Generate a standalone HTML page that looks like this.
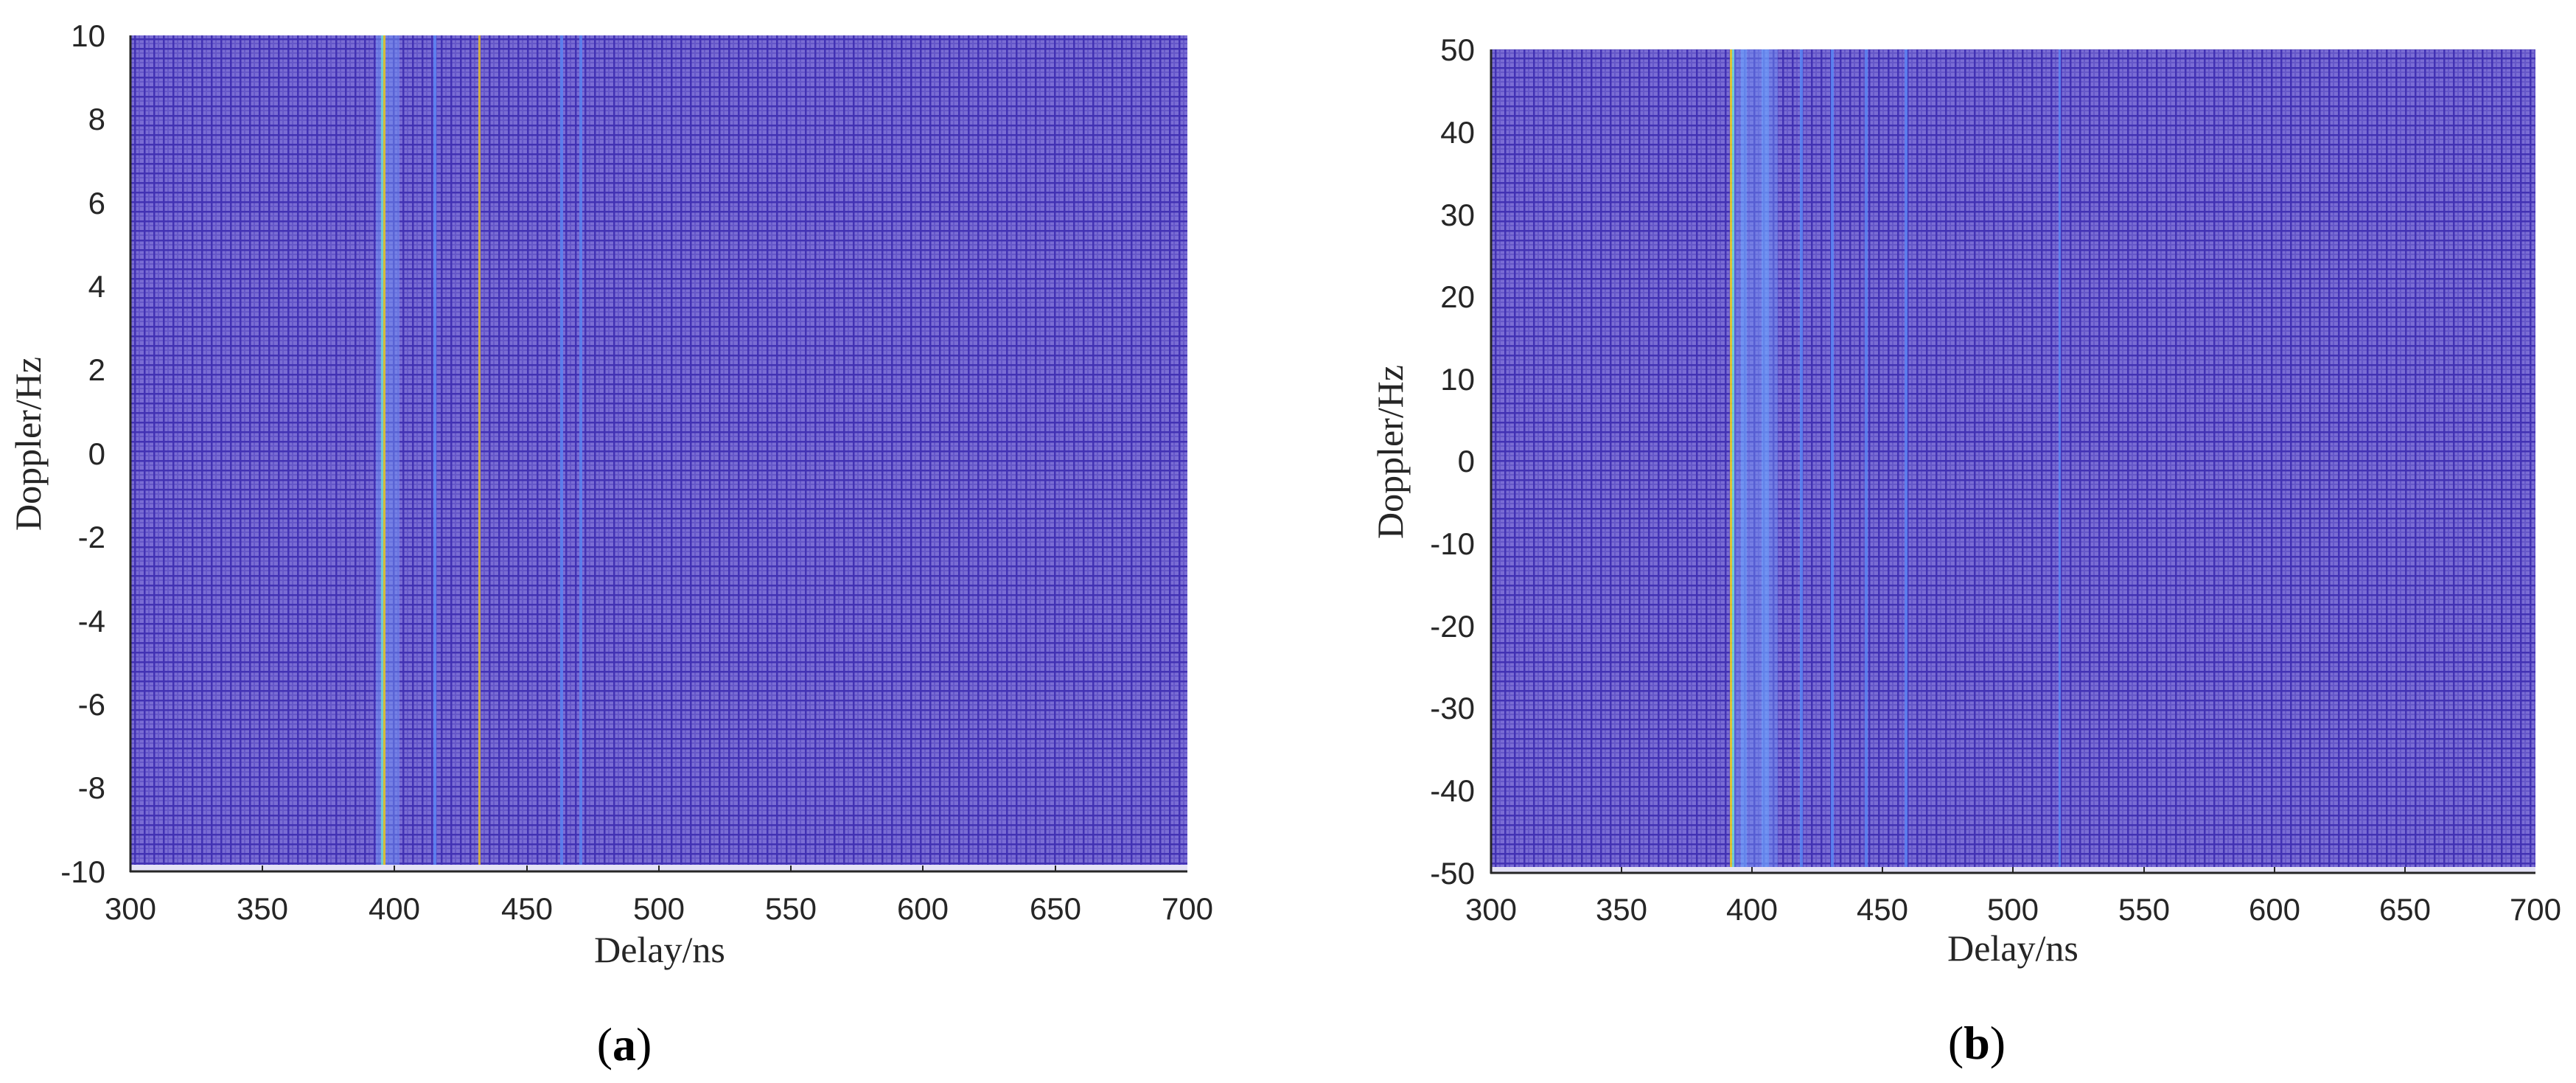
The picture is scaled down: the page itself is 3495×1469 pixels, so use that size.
<!DOCTYPE html>
<html><head><meta charset="utf-8"><style>
html,body{margin:0;padding:0;background:#fff;}
svg{display:block;}
.t{font-family:"Liberation Sans",sans-serif;font-size:42px;fill:#262626;}
.l{font-family:"Liberation Serif",serif;font-size:50px;fill:#262626;}
.c{font-family:"Liberation Serif",serif;font-size:64px;fill:#000;}
</style></head><body>
<svg width="3495" height="1469" viewBox="0 0 3495 1469" xmlns="http://www.w3.org/2000/svg">
<defs>
<pattern id="m" width="13" height="13" patternUnits="userSpaceOnUse">
<rect width="13" height="13" fill="#7a6dd4"/>
<rect x="6" y="0" width="2" height="13" fill="#6557c9"/>
<rect x="0" y="6" width="13" height="2" fill="#6557c9"/>
<rect x="0" y="0" width="2.5" height="13" fill="#4232b4"/>
<rect x="0" y="0" width="13" height="2.5" fill="#4232b4"/>
</pattern>
</defs>

<!-- Plot a -->
<rect x="177" y="48" width="1434" height="1125" fill="url(#m)"/>
<rect x="177" y="1173" width="1434" height="9" fill="#e4e2f6"/>
<g opacity="0.85">
<rect x="510" y="48" width="32" height="1125" fill="#6f92f5" opacity="0.6"/>
<rect x="517" y="48" width="3" height="1125" fill="#70e0d0"/>
<rect x="520" y="48" width="3" height="1125" fill="#f2d020"/>
<rect x="588" y="48" width="4" height="1125" fill="#5b84f5"/>
<rect x="649" y="48" width="3" height="1125" fill="#e8c030"/>
<rect x="760" y="48" width="4" height="1125" fill="#5a82f2"/>
<rect x="786" y="48" width="4" height="1125" fill="#5a82f2"/>
</g>
<line x1="177" y1="48" x2="177" y2="1183" stroke="#262626" stroke-width="3"/>
<line x1="176" y1="1182" x2="1611" y2="1182" stroke="#262626" stroke-width="3"/>
<g stroke="#262626" stroke-width="2">
<line x1="356" y1="1182" x2="356" y2="1174"/><line x1="535" y1="1182" x2="535" y2="1174"/>
<line x1="715" y1="1182" x2="715" y2="1174"/><line x1="894" y1="1182" x2="894" y2="1174"/>
<line x1="1073" y1="1182" x2="1073" y2="1174"/><line x1="1252" y1="1182" x2="1252" y2="1174"/>
<line x1="1432" y1="1182" x2="1432" y2="1174"/>
</g>
<g class="t" text-anchor="end">
<text x="143" y="63">10</text><text x="143" y="176">8</text><text x="143" y="290">6</text>
<text x="143" y="403">4</text><text x="143" y="516">2</text><text x="143" y="630">0</text>
<text x="143" y="743">-2</text><text x="143" y="857">-4</text><text x="143" y="970">-6</text>
<text x="143" y="1083">-8</text><text x="143" y="1197">-10</text>
</g>
<g class="t" text-anchor="middle">
<text x="177" y="1247">300</text><text x="356" y="1247">350</text><text x="535" y="1247">400</text>
<text x="715" y="1247">450</text><text x="894" y="1247">500</text><text x="1073" y="1247">550</text>
<text x="1252" y="1247">600</text><text x="1432" y="1247">650</text><text x="1611" y="1247">700</text>
</g>
<text class="l" x="895" y="1305" text-anchor="middle">Delay/ns</text>
<text class="l" transform="translate(55,602) rotate(-90)" text-anchor="middle">Doppler/Hz</text>
<text class="c" x="847" y="1438" text-anchor="middle">(<tspan font-weight="bold">a</tspan>)</text>

<!-- Plot b -->
<rect x="2023" y="67" width="1417" height="1109" fill="url(#m)"/>
<rect x="2023" y="1176" width="1417" height="8" fill="#e4e2f6"/>
<g opacity="0.85">
<rect x="2352" y="67" width="60" height="1109" fill="#6f92f5" opacity="0.55"/>
<rect x="2362" y="67" width="8" height="1109" fill="#6fa4ff" opacity="0.7"/>
<rect x="2390" y="67" width="10" height="1109" fill="#6fa4ff" opacity="0.7"/>
<rect x="2347" y="67" width="3" height="1109" fill="#f2d020"/>
<rect x="2350" y="67" width="3" height="1109" fill="#70e0d0"/>
<rect x="2442" y="67" width="4" height="1109" fill="#5a86f5"/>
<rect x="2484" y="67" width="4" height="1109" fill="#5a86f5"/>
<rect x="2530" y="67" width="4" height="1109" fill="#5a82f2"/>
<rect x="2584" y="67" width="4" height="1109" fill="#5a82f2"/>
<rect x="2793" y="67" width="3" height="1109" fill="#5a82f2"/>
</g>
<line x1="2023" y1="67" x2="2023" y2="1185" stroke="#262626" stroke-width="3"/>
<line x1="2022" y1="1184" x2="3440" y2="1184" stroke="#262626" stroke-width="3"/>
<g stroke="#262626" stroke-width="2">
<line x1="2200" y1="1184" x2="2200" y2="1176"/><line x1="2377" y1="1184" x2="2377" y2="1176"/>
<line x1="2554" y1="1184" x2="2554" y2="1176"/><line x1="2731" y1="1184" x2="2731" y2="1176"/>
<line x1="2909" y1="1184" x2="2909" y2="1176"/><line x1="3086" y1="1184" x2="3086" y2="1176"/>
<line x1="3263" y1="1184" x2="3263" y2="1176"/>
</g>
<g class="t" text-anchor="end">
<text x="2001" y="82">50</text><text x="2001" y="194">40</text><text x="2001" y="306">30</text>
<text x="2001" y="417">20</text><text x="2001" y="529">10</text><text x="2001" y="640">0</text>
<text x="2001" y="752">-10</text><text x="2001" y="864">-20</text><text x="2001" y="975">-30</text>
<text x="2001" y="1087">-40</text><text x="2001" y="1199">-50</text>
</g>
<g class="t" text-anchor="middle">
<text x="2023" y="1248">300</text><text x="2200" y="1248">350</text><text x="2377" y="1248">400</text>
<text x="2554" y="1248">450</text><text x="2731" y="1248">500</text><text x="2909" y="1248">550</text>
<text x="3086" y="1248">600</text><text x="3263" y="1248">650</text><text x="3440" y="1248">700</text>
</g>
<text class="l" x="2731" y="1303" text-anchor="middle">Delay/ns</text>
<text class="l" transform="translate(1903,613) rotate(-90)" text-anchor="middle">Doppler/Hz</text>
<text class="c" x="2682" y="1436" text-anchor="middle">(<tspan font-weight="bold">b</tspan>)</text>
</svg>
</body></html>
